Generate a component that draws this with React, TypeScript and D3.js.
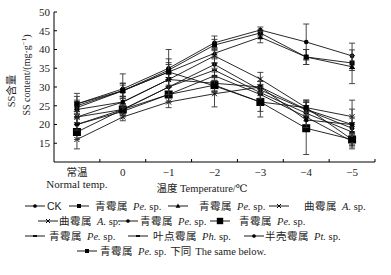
import React from "react";
import * as d3 from "d3";

const categories = ["常温", "0", "−1", "−2", "−3", "−4", "−5"];
const yTicks = [15, 20, 25, 30, 35, 40, 45, 50];

const seriesNames = [
  { zh: "", sp: "CK", it: "" },
  { zh: "青霉属", it: "Pe.", sp: "sp." },
  { zh: "青霉属", it: "Pe.", sp: "sp." },
  { zh: "曲霉属", it: "A.", sp: "sp." },
  { zh: "曲霉属", it: "A.", sp: "sp." },
  { zh: "青霉属", it: "Pe.", sp: "sp." },
  { zh: "青霉属", it: "Pe.", sp: "sp." },
  { zh: "青霉属", it: "Pe.", sp: "sp." },
  { zh: "叶点霉属", it: "Ph.", sp: "sp." },
  { zh: "半壳霉属", it: "Pt.", sp: "sp." },
  { zh: "青霉属", it: "Pe.", sp: "sp." },
];
const markers = ["circle", "square", "triangle", "cross", "cross", "circle", "bigsquare", "dash", "dash", "circle", "square"];

const vCK = [25.5, 29.5, 35, 41.8, 45.2, 42, 38.3];
const vPe1 = [25, 29, 34.5, 41.2, 44.4, 38, 36.4];
const vPe2 = [24.5, 29, 34, 39, 43.3, 38, 35.4];
const vA1 = [22, 26, 32, 38.3, 32.1, 24.5, 22.1];
const vA2 = [16, 22, 26, 28.2, 30, 24, 20];
const vPe3 = [20, 24, 30, 36, 29.2, 23.9, 19];
const vPe4 = [18, 24, 28, 30.5, 26, 19, 16];
const vPe5 = [22, 24, 30, 34.5, 28.5, 23, 18];
const vPh = [20, 23.5, 28, 33, 28, 22, 15.5];
const vPt = [24, 26, 32, 31, 30, 21.2, 20];
const vPe6 = [25.5, 29, 34, 30.3, 26, 24.5, 16];

const eCK = [2.8, 4, 2.5, 1.8, 0.8, 4.8, 3.4];
const ePe1 = [1.5, 2, 2, 1.5, 0.8, 2, 2];
const ePe2 = [1.5, 2, 2, 1.5, 1.5, 2, 4.5];
const eA1 = [1.5, 1.5, 2, 2, 1.8, 2, 2];
const eA2 = [2.5, 1, 1.5, 3.5, 1.5, 2, 2];
const ePe3 = [2, 1.5, 2, 2, 1.5, 2, 1.5];
const ePe4 = [2, 1.5, 2, 2, 2.5, 7, 1.5];
const ePe5 = [1.5, 1.5, 2, 2, 1.5, 2, 1.5];
const ePh = [1.5, 1.5, 2, 2, 1.5, 2, 1.5];
const ePt = [2, 1.5, 1.5, 2, 1.5, 2, 6.5];
const ePe6 = [2, 1.5, 6, 1.5, 4, 2, 1.5];

const values = [vCK, vPe1, vPe2, vA1, vA2, vPe3, vPe4, vPe5, vPh, vPt, vPe6];
const errors = [eCK, ePe1, ePe2, eA1, eA2, ePe3, ePe4, ePe5, ePh, ePt, ePe6];

// legend layout: [series, sampleX, textX, rowY]
const legendLayout: [number, number, number, number][] = [
  [0, 25, 47, 206], [1, 69, 95, 206], [2, 168, 199, 206], [3, 269, 304, 206],
  [4, 38, 59, 221], [5, 118, 140, 221], [6, 210, 239, 221],
  [7, 25, 49, 236], [8, 128, 153, 236], [9, 244, 265, 236],
  [10, 77, 100, 251],
];

const serif = "'Liberation Serif', 'DejaVu Serif', serif";
const cjk = "'Noto Sans CJK SC', sans-serif";

function Marker({ kind, x, y, s = 1 }: { kind: string; x: number; y: number; s?: number }) {
  if (kind === "circle") return <circle cx={x} cy={y} r={2.3 * s} fill="#000" />;
  if (kind === "square") return <rect x={x - 2.5 * s} y={y - 2.5 * s} width={5 * s} height={5 * s} fill="#000" />;
  if (kind === "bigsquare") return <rect x={x - 4 * s} y={y - 4 * s} width={8 * s} height={8 * s} fill="#000" />;
  if (kind === "triangle") {
    const p = d3.path();
    p.moveTo(x, y - 3 * s);
    p.lineTo(x + 3 * s, y + 2.2 * s);
    p.lineTo(x - 3 * s, y + 2.2 * s);
    p.closePath();
    return <path d={p.toString()} fill="#000" />;
  }
  if (kind === "cross")
    return (
      <g stroke="#000" strokeWidth={1}>
        <line x1={x - 2.5 * s} y1={y - 2.5 * s} x2={x + 2.5 * s} y2={y + 2.5 * s} />
        <line x1={x - 2.5 * s} y1={y + 2.5 * s} x2={x + 2.5 * s} y2={y - 2.5 * s} />
      </g>
    );
  return <rect x={x - 2.5 * s} y={y - 0.9} width={5 * s} height={1.8} fill="#000" />;
}

export default function App() {
  const W = 391, H = 275;
  const x0 = 54, x1 = 375, yTop = 12, yBot = 162;
  const x = d3.scalePoint<string>().domain(categories).range([x0, x1]).padding(0.5);
  const y = d3.scaleLinear().domain([10, 50]).range([yBot, yTop]);
  const step = x.step();
  const line = d3.line<number>().x((_, i) => x(categories[i])!).y((v) => y(v));

  return (
    <svg width={W} height={H} style={{ position: "absolute", left: 0, top: 0, background: "#fff" }}>
      {/* axes */}
      <line x1={x0} y1={yTop} x2={x0} y2={yBot} stroke="#000" strokeWidth={1} />
      <line x1={x0} y1={yBot} x2={x1} y2={yBot} stroke="#000" strokeWidth={1} />
      {yTicks.map((t) => (
        <g key={t}>
          <line x1={x0} x2={x0 + 3} y1={y(t)} y2={y(t)} stroke="#000" />
          <text x={x0 - 4} y={y(t)} dy="0.35em" textAnchor="end" fontFamily={serif} fontSize={11} fill="#222">
            {t}
          </text>
        </g>
      ))}
      {d3.range(1, 8).map((i) => (
        <line key={i} x1={x0 + i * step} x2={x0 + i * step} y1={yBot} y2={yBot - 3} stroke="#000" />
      ))}
      {categories.map((c, i) => (
        <text key={c} x={x(c)} y={176} textAnchor="middle" fontFamily={i === 0 ? cjk : serif} fontSize={i === 0 ? 10.5 : 11} fill="#222">
          {c}
        </text>
      ))}
      <text x={x(categories[0])} y={188} textAnchor="middle" fontFamily={serif} fontSize={11} fill="#222">
        Normal temp.
      </text>
      <text x={202} y={192} textAnchor="middle" fontSize={10.5} fill="#222">
        <tspan fontFamily={cjk}>温度 </tspan>
        <tspan fontFamily={serif}>Temperature/℃</tspan>
      </text>
      <text transform={`translate(15,91) rotate(-90)`} textAnchor="middle" fontSize={10.5} fill="#222">
        <tspan fontFamily={serif}>SS</tspan>
        <tspan fontFamily={cjk}>含量</tspan>
      </text>
      <text transform={`translate(30,75) rotate(-90)`} textAnchor="middle" fontSize={10} fontFamily={serif} fill="#222">
        SS content/(mg·g<tspan dy={-4} fontSize={7}>−1</tspan>
        <tspan dy={4}>)</tspan>
      </text>

      {/* series */}
      {values.map((vals, s) => (
        <g key={s}>
          <path d={line(vals)!} fill="none" stroke="#111" strokeWidth={0.9} />
          {vals.map((v, i) => {
            const cx = x(categories[i])!;
            const e = errors[s][i];
            return (
              <g key={i} stroke="#333" strokeWidth={0.9}>
                <line x1={cx} x2={cx} y1={y(v - e)} y2={y(v + e)} />
                <line x1={cx - 3} x2={cx + 3} y1={y(v - e)} y2={y(v - e)} />
                <line x1={cx - 3} x2={cx + 3} y1={y(v + e)} y2={y(v + e)} />
              </g>
            );
          })}
          {vals.map((v, i) => (
            <Marker key={"m" + i} kind={markers[s]} x={x(categories[i])!} y={y(v)} />
          ))}
        </g>
      ))}

      {/* legend */}
      {legendLayout.map(([s, sx, tx, ly]) => {
        const n = seriesNames[s];
        return (
          <g key={s}>
            <line x1={sx} x2={sx + 20} y1={ly} y2={ly} stroke="#000" strokeWidth={0.9} />
            <Marker kind={markers[s]} x={sx + 10} y={ly} s={0.8} />
            <text x={tx} y={ly} dy="0.35em" fontSize={10.5} fill="#222">
              {s === 0 ? (
                <tspan fontFamily="'Liberation Sans', sans-serif">CK</tspan>
              ) : (
                <>
                  <tspan fontFamily={cjk} letterSpacing={0.5}>{n.zh}</tspan>
                  <tspan fontFamily={serif} fontStyle="italic" dx={5}>{n.it}</tspan>
                  <tspan fontFamily={serif}> {n.sp}</tspan>
                  {s === 10 ? (
                    <>
                      <tspan fontFamily={cjk} dx={4}>下同</tspan>
                      <tspan fontFamily={serif} dx={4}>The same below.</tspan>
                    </>
                  ) : null}
                </>
              )}
            </text>
          </g>
        );
      })}
    </svg>
  );
}
